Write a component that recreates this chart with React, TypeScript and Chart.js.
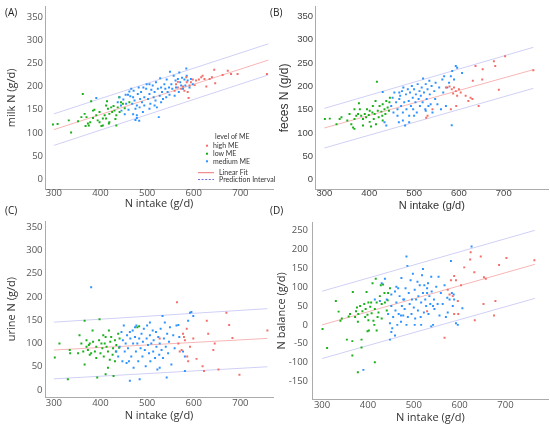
import React, { useEffect, useRef } from "react";
import { Chart, registerables } from "chart.js";

Chart.register(...registerables);

type Pt = [number, number];

// ---------- shared labels / ticks ----------
const meLevels = ["high ME", "low ME", "medium ME"];
const legendTitle = "level of ME";
const fitLabels = ["Linear Fit", "Prediction Interval"];
const xTitle = "N intake (g/d)";
const xTickValues = [300, 400, 500, 600, 700];
const yTickValues = [0, 50, 100, 150, 200, 250, 300, 350];
const balanceTickValues = [-150, -100, -50, 0, 50, 100, 150, 200, 250];

// ---------- (A) milk N ----------
const milkHigh: Pt[] = [
  [562, 205], [566, 210], [573, 195], [577, 200], [580, 191], [584, 220], [587, 188], [589, 175],
  [591, 202], [594, 209], [598, 215], [605, 213], [611, 215], [616, 220], [619, 223], [623, 216],
  [627, 200], [634, 216], [639, 220], [644, 236], [646, 207], [662, 225], [673, 234], [680, 227],
  [694, 227], [757, 227], [566, 198], [559, 191], [585, 209], [602, 203],
];
const milkLow: Pt[] = [
  [298, 118], [308, 119], [337, 101], [332, 127], [352, 125], [359, 134], [362, 184], [366, 141],
  [368, 115], [373, 120], [375, 116], [378, 123], [380, 168], [384, 148], [387, 150], [391, 138],
  [394, 127], [398, 123], [402, 115], [405, 131], [409, 138], [412, 159], [414, 168], [416, 152],
  [418, 120], [419, 141], [423, 155], [425, 145], [428, 158], [430, 148], [432, 130], [434, 138],
  [437, 155], [440, 177], [441, 145], [444, 166], [448, 163], [452, 153], [419, 123], [405, 116],
  [384, 132], [398, 145], [412, 131], [434, 116], [462, 166], [370, 134],
];
const milkMedium: Pt[] = [
  [391, 175], [437, 166], [441, 177], [444, 159], [449, 172], [455, 163], [459, 182], [462, 189],
  [466, 195], [468, 163], [470, 177], [473, 170], [475, 152], [478, 138], [480, 184], [482, 198],
  [484, 155], [485, 173], [487, 188], [489, 166], [491, 145], [494, 177], [498, 195], [499, 205],
  [502, 173], [505, 184], [507, 163], [509, 193], [512, 202], [514, 177], [516, 188], [518, 170],
  [519, 209], [521, 155], [523, 195], [525, 134], [527, 180], [528, 218], [530, 198], [532, 188],
  [534, 173], [537, 205], [539, 195], [541, 177], [542, 215], [544, 188], [547, 198], [548, 182],
  [549, 232], [552, 205], [554, 195], [557, 223], [559, 180], [561, 213], [562, 198], [566, 216],
  [568, 188], [569, 230], [571, 209], [573, 202], [575, 219], [577, 195], [580, 215], [582, 202],
  [584, 239], [585, 223], [587, 213], [591, 198], [594, 216], [598, 205], [471, 191], [464, 179],
  [478, 159], [454, 182], [494, 159], [505, 152], [516, 159], [530, 166], [505, 205], [492, 198],
  [475, 128], [478, 132], [470, 140], [483, 126], [460, 150], [445, 148], [452, 140],
];
const milkFit: Pt[] = [[300, 107], [760, 257]];
const milkUpper: Pt[] = [[300, 141], [760, 292]];
const milkLower: Pt[] = [[300, 73], [760, 225]];

// ---------- (B) feces N ----------
const fecesHigh: Pt[] = [
  [527, 133], [530, 137], [541, 151], [571, 198], [579, 200], [584, 194], [587, 185], [589, 198],
  [593, 190], [596, 180], [600, 194], [604, 187], [615, 180], [621, 169], [626, 176], [630, 173],
  [631, 212], [637, 244], [644, 158], [652, 215], [653, 237], [678, 254], [681, 244], [689, 193],
  [703, 265], [766, 235], [582, 151], [594, 158],
];
const fecesLow: Pt[] = [
  [301, 130], [312, 131], [327, 119], [334, 130], [338, 134], [351, 127], [356, 141], [360, 119],
  [364, 112], [367, 109], [367, 130], [371, 137], [375, 141], [377, 164], [379, 151], [382, 137],
  [386, 130], [390, 141], [393, 134], [395, 151], [399, 139], [401, 124], [404, 114], [407, 144],
  [408, 158], [410, 130], [412, 141], [414, 169], [417, 210], [419, 148], [421, 134], [423, 158],
  [427, 146], [429, 137], [430, 162], [434, 151], [436, 141], [438, 169], [441, 155], [444, 148],
  [445, 166], [446, 176], [401, 148], [386, 116], [367, 151], [430, 127], [415, 119],
];
const fecesMedium: Pt[] = [
  [430, 188], [434, 123], [438, 116], [449, 158], [452, 176], [454, 144], [456, 187], [460, 166],
  [463, 151], [466, 123], [467, 173], [469, 180], [471, 158], [473, 190], [475, 144], [476, 198],
  [478, 166], [480, 116], [482, 183], [483, 151], [486, 194], [488, 169], [489, 137], [491, 187],
  [493, 158], [495, 201], [497, 176], [498, 151], [500, 194], [503, 166], [504, 183], [506, 144],
  [508, 205], [510, 173], [512, 190], [513, 158], [515, 180], [517, 198], [519, 166], [520, 217],
  [522, 187], [525, 151], [526, 205], [528, 173], [530, 194], [532, 158], [534, 212], [535, 183],
  [537, 162], [539, 201], [541, 144], [545, 190], [547, 173], [548, 208], [552, 162], [556, 198],
  [560, 151], [563, 215], [565, 187], [567, 222], [571, 158], [574, 198], [578, 208], [582, 222],
  [584, 117], [585, 233], [589, 215], [593, 244], [596, 240], [607, 229], [475, 127], [463, 137],
  [500, 137], [489, 123], [526, 148], [467, 187],
];
const fecesFit: Pt[] = [[300, 111], [766, 236]];
const fecesUpper: Pt[] = [[300, 153], [766, 284]];
const fecesLower: Pt[] = [[300, 68], [766, 196]];

// ---------- (C) urine N ----------
const urineHigh: Pt[] = [
  [564, 189], [527, 111], [577, 121], [581, 107], [574, 86], [567, 100], [585, 132], [586, 72],
  [588, 62], [592, 93], [599, 111], [606, 67], [619, 51], [622, 41], [628, 149], [631, 121],
  [642, 86], [645, 100], [653, 44], [670, 166], [676, 140], [683, 112], [698, 33], [758, 128],
  [570, 83], [579, 114],
];
const urineLow: Pt[] = [
  [302, 70], [312, 100], [330, 23], [334, 86], [335, 79], [352, 79], [355, 118], [359, 100],
  [363, 83], [366, 149], [366, 55], [370, 93], [373, 86], [375, 97], [377, 76], [380, 79],
  [383, 128], [384, 104], [388, 83], [391, 93], [393, 27], [397, 107], [398, 152], [400, 79],
  [402, 100], [404, 90], [406, 118], [407, 72], [409, 100], [411, 114], [413, 93], [416, 83],
  [418, 128], [420, 65], [421, 104], [423, 114], [426, 76], [427, 90], [428, 30], [431, 107],
  [433, 83], [434, 97], [438, 121], [440, 91], [441, 111], [479, 135], [483, 137], [370, 107],
  [391, 69], [416, 48], [431, 62], [377, 100], [411, 34],
];
const urineMedium: Pt[] = [
  [380, 221], [434, 83], [438, 72], [441, 93], [445, 125], [447, 62], [448, 107], [450, 139],
  [452, 83], [454, 100], [456, 58], [457, 118], [459, 90], [461, 62], [463, 20], [464, 111],
  [466, 72], [469, 128], [470, 100], [471, 48], [474, 114], [476, 83], [477, 139], [479, 100],
  [481, 62], [483, 111], [484, 23], [486, 90], [488, 121], [490, 72], [491, 104], [493, 132],
  [495, 86], [497, 51], [499, 111], [500, 139], [502, 97], [504, 79], [506, 118], [507, 62],
  [509, 100], [512, 128], [513, 83], [514, 107], [517, 69], [519, 125], [520, 93], [522, 44],
  [524, 114], [526, 76], [527, 100], [529, 132], [531, 86], [533, 159], [534, 69], [536, 111],
  [538, 145], [540, 93], [542, 27], [543, 121], [545, 79], [547, 104], [549, 135], [552, 55],
  [556, 118], [559, 90], [563, 139], [567, 140], [569, 114], [577, 83], [581, 72], [588, 149],
  [592, 166], [595, 168], [581, 41], [599, 159], [463, 125], [506, 145], [474, 135], [527, 48],
];
const urineFit: Pt[] = [[300, 86], [758, 111]];
const urineUpper: Pt[] = [[300, 146], [758, 175]];
const urineLower: Pt[] = [[300, 24], [758, 50]];

// ---------- (D) N balance ----------
const balanceHigh: Pt[] = [
  [567, -34], [574, 93], [578, 80], [581, 118], [585, 76], [588, 129], [592, 118], [596, 63],
  [597, 29], [603, 105], [610, 152], [623, 173], [624, 192], [632, 139], [633, 12], [646, 181],
  [653, 126], [657, 122], [678, 63], [675, 25], [686, 158], [702, 177], [763, 171], [529, 36],
  [588, 29], [652, 55],
];
const balanceLow: Pt[] = [
  [301, -11], [311, -61], [330, 63], [336, 35], [340, 11], [354, -39], [366, -43], [367, 87],
  [358, 22], [361, 29], [372, 21], [374, 36], [376, 46], [378, 8], [379, 29], [383, 50],
  [386, -60], [388, 36], [392, 55], [394, 21], [395, 42], [397, 87], [399, 27], [401, 12],
  [402, -15], [405, 48], [407, 59], [408, 31], [410, 110], [412, 11], [414, 0], [415, 42],
  [417, 122], [419, 59], [421, 21], [423, 33], [426, 76], [428, 105], [430, 55], [433, 107],
  [436, 84], [437, 59], [441, 38], [443, 65], [444, 84], [448, 97], [366, -81], [386, -39],
  [419, -15], [399, -17], [378, -125], [415, -99], [430, 17], [401, 59], [343, 17],
];
const balanceMedium: Pt[] = [
  [390, -119], [448, -39], [459, -28], [415, 67], [426, 63], [430, 110], [437, 122], [441, 67],
  [444, 29], [448, 4], [451, 50], [453, -9], [455, 21], [459, 88], [460, 38], [462, 59],
  [464, 0], [466, 97], [467, 29], [469, 76], [472, 8], [473, 124], [474, 50], [477, 25],
  [479, 67], [480, 42], [482, 97], [484, 181], [486, 156], [487, 21], [489, 84], [491, 55],
  [493, 118], [495, 29], [496, 67], [498, 135], [500, 46], [502, 93], [503, 17], [505, 67],
  [508, 114], [509, 38], [510, 76], [513, 105], [515, 21], [516, 59], [518, 131], [520, 84],
  [522, 33], [523, 105], [525, 67], [527, 50], [529, 97], [531, 110], [532, 29], [534, 76],
  [536, 55], [538, 127], [539, 88], [542, 0], [544, 67], [545, 42], [549, 101], [552, 55],
  [554, 127], [556, 25], [559, 84], [563, 55], [567, 105], [570, 21], [573, 72], [574, 33],
  [578, 67], [581, 169], [583, 84], [585, 50], [587, 80], [588, 67], [592, 4], [596, 0],
  [606, 44], [626, 207], [542, 50], [451, 80], [484, 0], [516, 0], [472, 25], [502, 0],
  [477, 67], [462, 101], [529, 84], [520, 148], [451, -19], [538, -4],
];
const balanceFit: Pt[] = [[300, 0], [764, 160]];
const balanceUpper: Pt[] = [[300, 89], [764, 250]];
const balanceLower: Pt[] = [[300, -89], [764, 70]];

// ---------- styles ----------
const HIGH = "#F46F6A";
const LOW = "#19B019";
const MEDIUM = "#2E93FF";
const FIT = "#F7B6B6";
const PI = "#D0D0F6";
const AXIS = "#ABABAB";
const HUMANIST = '"Open Sans", Lato, sans-serif';
const ARIAL = '"Liberation Sans", Arial, sans-serif';

type PanelCfg = {
  id: string; left: number; top: number; w: number; h: number;
  padTop: number; padRight: number; yW: number; xH: number;
  xMin: number; xMax: number; yMin: number; yMax: number; yTicks: number[];
  yTitle: string; family: string; tickColor: string; yTitleSize: number;
  xTickPad: number; yTickPad: number; xTitlePad: number; yTitlePad: number;
  high: Pt[]; low: Pt[]; medium: Pt[]; fit: Pt[]; upper: Pt[]; lower: Pt[];
  legend: boolean; labelLeft: number; labelTop: number;
};

const panels: PanelCfg[] = [
  {
    id: "(A)", left: 0, top: 0, w: 285, h: 214, padTop: 5, padRight: 12, yW: 45, xH: 25,
    xMin: 281, xMax: 770, yMin: -21, yMax: 372, yTicks: yTickValues, yTitle: "milk N (g/d)",
    family: HUMANIST, tickColor: "#555", yTitleSize: 11, xTickPad: 0, yTickPad: 2, xTitlePad: 3.4, yTitlePad: 5.4,
    high: milkHigh, low: milkLow, medium: milkMedium, fit: milkFit, upper: milkUpper, lower: milkLower,
    legend: true, labelLeft: 5, labelTop: 5,
  },
  {
    id: "(B)", left: 275, top: 0, w: 275, h: 214, padTop: 5, padRight: 0, yW: 40, xH: 25,
    xMin: 279, xMax: 800, yMin: -20, yMax: 371, yTicks: yTickValues, yTitle: "feces N (g/d)",
    family: ARIAL, tickColor: "#444", yTitleSize: 12, xTickPad: 0, yTickPad: 2, xTitlePad: 1, yTitlePad: 2.8,
    high: fecesHigh, low: fecesLow, medium: fecesMedium, fit: fecesFit, upper: fecesUpper, lower: fecesLower,
    legend: false, labelLeft: 270, labelTop: 5,
  },
  {
    id: "(C)", left: 0, top: 214, w: 285, h: 214, padTop: 2, padRight: 12, yW: 45, xH: 31,
    xMin: 281, xMax: 770, yMin: -15, yMax: 363, yTicks: yTickValues, yTitle: "urine N (g/d)",
    family: HUMANIST, tickColor: "#555", yTitleSize: 11, xTickPad: 1.5, yTickPad: 2.5, xTitlePad: 5.4, yTitlePad: 5.4,
    high: urineHigh, low: urineLow, medium: urineMedium, fit: urineFit, upper: urineUpper, lower: urineLower,
    legend: false, labelLeft: 5, labelTop: 203,
  },
  {
    id: "(D)", left: 275, top: 214, w: 275, h: 214, padTop: 1, padRight: 0, yW: 37, xH: 29,
    xMin: 278, xMax: 794, yMin: -196, yMax: 270, yTicks: balanceTickValues, yTitle: "N balance (g/d)",
    family: HUMANIST, tickColor: "#555", yTitleSize: 11, xTickPad: 2, yTickPad: 4, xTitlePad: 3.4, yTitlePad: 0,
    high: balanceHigh, low: balanceLow, medium: balanceMedium, fit: balanceFit, upper: balanceUpper, lower: balanceLower,
    legend: false, labelLeft: 270, labelTop: 203,
  },
];

const toXY = (pts: Pt[]) => pts.map(([x, y]) => ({ x, y }));

const legendPlugin = {
  id: "meLegend",
  afterDraw(chart: any) {
    const ctx = chart.ctx as CanvasRenderingContext2D;
    ctx.save();
    ctx.textBaseline = "middle";
    ctx.fillStyle = "#333";
    ctx.font = "7px Lato, sans-serif";
    ctx.fillText(legendTitle, 215, 136.5);
    const rows: [string, string, number][] = [
      [meLevels[0], HIGH, 145.7],
      [meLevels[1], LOW, 153.7],
      [meLevels[2], MEDIUM, 161.3],
    ];
    rows.forEach(([label, color, y]) => {
      ctx.fillStyle = color;
      ctx.fillRect(206, y - 1, 2, 2);
      ctx.fillStyle = "#333";
      ctx.fillText(label, 213, y);
    });
    ctx.lineWidth = 1;
    ctx.strokeStyle = "#F07272";
    ctx.beginPath();
    ctx.moveTo(198, 172.7);
    ctx.lineTo(214, 172.7);
    ctx.stroke();
    ctx.strokeStyle = "#6E6EE0";
    ctx.setLineDash([2, 1.6]);
    ctx.beginPath();
    ctx.moveTo(198, 179.5);
    ctx.lineTo(214, 179.5);
    ctx.stroke();
    ctx.setLineDash([]);
    ctx.fillStyle = "#333";
    ctx.fillText(fitLabels[0], 219, 172.7);
    ctx.fillText(fitLabels[1], 219, 179.5);
    ctx.restore();
  },
};

function buildConfig(p: PanelCfg): any {
  const pointDs = (label: string, pts: Pt[], color: string) => ({
    label, data: toXY(pts), backgroundColor: color, borderColor: color, borderWidth: 0,
    pointStyle: "rect", pointRadius: 1.4, pointHoverRadius: 1.4,
  });
  const lineDs = (label: string, pts: Pt[], color: string) => ({
    label, data: toXY(pts), showLine: true, borderColor: color, borderWidth: 1,
    pointRadius: 0, pointHoverRadius: 0, fill: false,
  });
  const tickFont = { family: p.family, size: 9.5, lineHeight: 1 };
  const titleFont = { family: p.family, size: 11, lineHeight: 1.2 };
  const yTitleFont = { family: p.family, size: p.yTitleSize, lineHeight: 1.2 };
  return {
    type: "scatter",
    data: {
      datasets: [
        pointDs(meLevels[0], p.high, HIGH),
        pointDs(meLevels[2], p.medium, MEDIUM),
        pointDs(meLevels[1], p.low, LOW),
        lineDs(fitLabels[0], p.fit, FIT),
        lineDs(fitLabels[1], p.upper, PI),
        lineDs(fitLabels[1], p.lower, PI),
      ],
    },
    options: {
      responsive: false,
      animation: false,
      events: [],
      layout: { padding: { left: 0, top: p.padTop, right: p.padRight, bottom: 0 } },
      plugins: { legend: { display: false }, tooltip: { enabled: false } },
      scales: {
        x: {
          type: "linear", min: p.xMin, max: p.xMax,
          afterBuildTicks: (s: any) => { s.ticks = xTickValues.map((v) => ({ value: v })); },
          afterFit: (s: any) => { s.height = p.xH; },
          grid: { display: false, drawTicks: false },
          border: { display: true, color: AXIS, width: 1 },
          ticks: { font: tickFont, color: p.tickColor, padding: p.xTickPad, maxRotation: 0, autoSkip: false },
          title: { display: true, text: xTitle, font: titleFont, color: "#333", padding: { top: 0, bottom: p.xTitlePad } },
        },
        y: {
          type: "linear", min: p.yMin, max: p.yMax,
          afterBuildTicks: (s: any) => { s.ticks = p.yTicks.map((v) => ({ value: v })); },
          afterFit: (s: any) => { s.width = p.yW; },
          grid: { display: false, drawTicks: false },
          border: { display: true, color: AXIS, width: 1 },
          ticks: { font: tickFont, color: p.tickColor, padding: p.yTickPad, autoSkip: false },
          title: { display: true, text: p.yTitle, font: yTitleFont, color: "#333", padding: { top: p.yTitlePad, bottom: 0 } },
        },
      },
    },
    plugins: p.legend ? [legendPlugin] : [],
  };
}

function Panel({ cfg }: { cfg: PanelCfg }) {
  const ref = useRef<HTMLCanvasElement>(null);
  useEffect(() => {
    const chart = new Chart(ref.current as HTMLCanvasElement, buildConfig(cfg));
    return () => chart.destroy();
  }, [cfg]);
  return (
    <canvas
      ref={ref}
      width={cfg.w}
      height={cfg.h}
      style={{ position: "absolute", left: cfg.left, top: cfg.top, width: cfg.w, height: cfg.h }}
    />
  );
}

export default function App() {
  return (
    <div
      style={{
        position: "fixed", left: 0, top: 0, width: 550, height: 428,
        background: "#fff", overflow: "hidden",
      }}
    >
      {panels.map((p) => (
        <Panel key={p.id} cfg={p} />
      ))}
      {panels.map((p) => (
        <div
          key={p.id + "-label"}
          style={{
            position: "absolute", left: p.labelLeft, top: p.labelTop,
            font: '10px "Open Sans", sans-serif', color: "#222", lineHeight: "14px",
          }}
        >
          {p.id}
        </div>
      ))}
    </div>
  );
}
